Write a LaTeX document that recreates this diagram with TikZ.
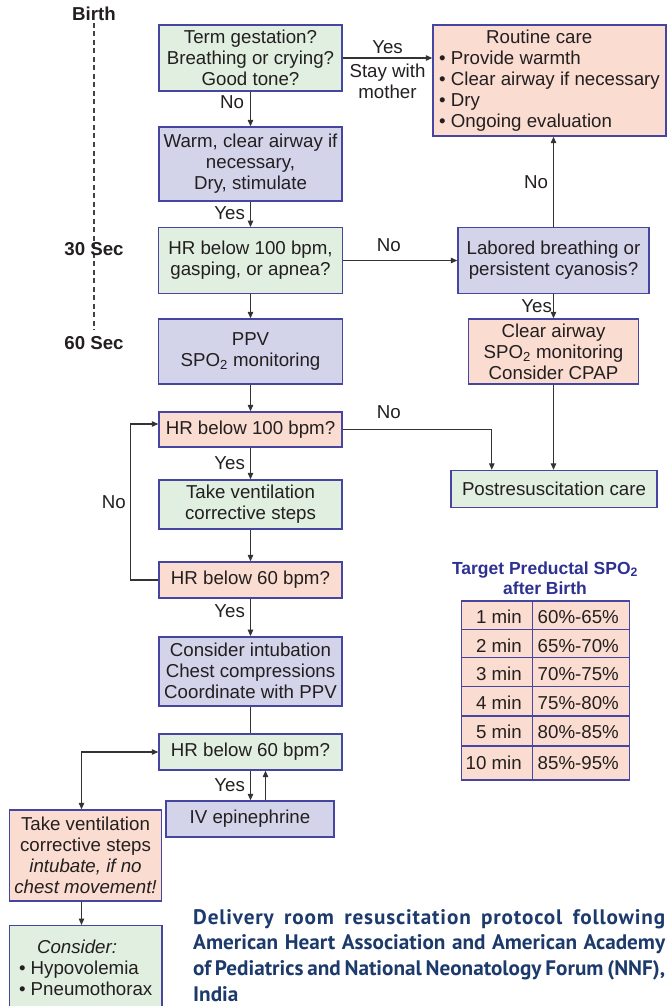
\documentclass[tikz,border=0pt]{standalone}
\usepackage{fontspec}
\setmainfont{Liberation Sans}
\newfontfamily\capfont{PT Sans}[FakeStretch=1.01]
\usetikzlibrary{arrows.meta,calc}
\definecolor{gfill}{HTML}{E0EFE0}
\definecolor{pfill}{HTML}{D3D3EA}
\definecolor{rfill}{HTML}{FADCD0}
\definecolor{bord}{HTML}{4646A0}
\definecolor{txt}{HTML}{231F20}
\definecolor{arrc}{HTML}{333333}
\definecolor{tblue}{HTML}{2E3192}
\definecolor{capc}{HTML}{1C3A6B}
\newcommand\mainsz{\fontsize{18.7}{21}\selectfont}
\newcommand\titsz{\fontsize{17.5}{20}\selectfont}
\newcommand\capsz{\fontsize{21}{25.8}\selectfont}
\begin{document}
\begin{tikzpicture}[x=1pt,y=-1pt,
  box/.style={draw=bord, line width=1.4pt, inner sep=0pt, align=center, font=\mainsz, text=txt},
  gbox/.style={box, fill=gfill},
  pbox/.style={box, fill=pfill},
  rbox/.style={box, fill=rfill},
  lbl/.style={font=\mainsz, text=txt, inner sep=0pt},
  tl/.style={font=\mainsz\bfseries, text=txt, inner sep=0pt},
  link/.style={draw=arrc, line width=1.15pt},
  arr/.style={link, -{Triangle[length=6.5pt,width=5.5pt]}},
  arrtwo/.style={link, {Triangle[length=6.5pt,width=5.5pt]}-{Triangle[length=6.5pt,width=5.5pt]}},
  tline/.style={draw=txt!85, line width=1.1pt, dash pattern=on 5pt off 3.5pt},
  cell/.style={font=\mainsz, text=txt, inner sep=0pt}
]
\useasboundingbox (0,0) rectangle (667,1006);

% timeline
\node[tl] (birth) at (94,14) {Birth};
\coordinate (tlend) at (94,330);
\draw[tline] (94,23) -- (tlend);
\node[tl] (s30) at (94,249) {30 Sec};
\node[tl] (s60) at (94,343) {60 Sec};

% boxes
\node[gbox, minimum width=183pt, minimum height=66pt] (q1) at (250.5,58) {Term gestation?\\Breathing or crying?\\Good tone?};
\node[pbox, minimum width=183pt, minimum height=74pt] (a1) at (250.5,164) {Warm, clear airway if\\necessary,\\Dry, stimulate};
\node[rbox, minimum width=233pt, minimum height=111pt, align=left] (rc) at (549.5,80.5) {\hspace*{47pt}Routine care\\\textbullet\ Provide warmth\\\textbullet\ Clear airway if necessary\\\textbullet\ Dry\\\textbullet\ Ongoing evaluation};
\node[gbox, minimum width=184pt, minimum height=65.5pt] (q2) at (250.5,260.5) {HR below 100 bpm,\\gasping, or apnea?};
\node[pbox, minimum width=191pt, minimum height=65.5pt] (lb) at (553.5,260.5) {Labored breathing or\\persistent cyanosis?};
\node[rbox, minimum width=170pt, minimum height=65pt] (ca) at (553.5,351.5) {Clear airway\\SPO\textsubscript{2} monitoring\\Consider CPAP};
\node[pbox, minimum width=184pt, minimum height=65pt] (ppv) at (250.5,351.5) {PPV\\SPO\textsubscript{2} monitoring};
\node[rbox, minimum width=183pt, minimum height=35pt] (h100) at (250.5,429.5) {HR below 100 bpm?};
\node[gbox, minimum width=206pt, minimum height=37pt] (pc) at (554,489) {Postresuscitation care};
\node[gbox, minimum width=183pt, minimum height=49pt] (vent) at (250.5,504.5) {Take ventilation\\corrective steps};
\node[rbox, minimum width=183pt, minimum height=36pt] (h60a) at (250.5,580) {HR below 60 bpm?};
\node[pbox, minimum width=183pt, minimum height=69pt] (intub) at (250.5,671.3) {Consider intubation\\Chest compressions\\Coordinate with PPV};
\node[gbox, minimum width=183pt, minimum height=36pt] (h60b) at (250.5,752) {HR below 60 bpm?};
\node[pbox, minimum width=168pt, minimum height=36pt] (iv) at (250,819) {IV epinephrine};
\node[rbox, minimum width=152pt, minimum height=91pt] (tv2) at (85.5,855.5) {Take ventilation\\corrective steps\\\textit{intubate, if no}\\\textit{chest movement!}};
\node[gbox, minimum width=152.5pt, minimum height=90pt] (cons) at (85.7,970.7) {};
\node[lbl, align=left] (constxt) at (85.7,968) {\hspace*{18pt}\textit{Consider:}\\\textbullet\ Hypovolemia\\\textbullet\ Pneumothorax};

% connectors
\draw[arr] (q1) -- node[lbl, left=6pt, pos=0.3] {No} (a1);
\draw[arr] (a1) -- node[lbl, left=5pt, pos=0.45] {Yes} (q2);
\draw[arr] (q1.east) -- (q1.east -| rc.west)
  node[lbl, midway, above=4pt] {Yes}
  node[lbl, midway, below=5pt, align=center] {Stay with\\mother};
\draw[arr] (q2.east) -- node[lbl, pos=0.4, above=8pt] {No} (q2.east -| lb.west);
\draw[arr] (lb.north) -- node[lbl, midway, left=5pt] {No} (lb.north |- rc.south);
\draw[arr] (lb.south) -- node[lbl, midway, left=1pt] {Yes} (lb.south |- ca.north);
\draw[arr] (ca.south) -- (ca.south |- pc.north);
\draw[arr] (q2) -- (ppv);
\draw[arr] (ppv) -- (h100);
\coordinate (pcin) at ($(pc.north west)!0.2!(pc.north east)$);
\draw[arr] (h100.east) -- node[lbl, pos=0.31, above=10pt] {No} (h100.east -| pcin) -- (pcin);
\draw[arr] (h100) -- node[lbl, midway, left=5pt] {Yes} (vent);
\draw[arr] (vent) -- (h60a);
\coordinate (h100in) at ($(h100.west)+(0,-5.5)$);
\draw[arr] (h60a.west) -- ++(-28,0) |- node[lbl, pos=0.25, left=4pt] {No} (h100in);
\draw[arr] (h60a) -- node[lbl, pos=0.33, left=5pt] {Yes} (intub);
\draw[link] (intub) -- (h60b);
\draw[arr] (h60b.south) -- node[lbl, midway, left=5pt] {Yes} (h60b.south |- iv.north);
\coordinate (ivup) at ($(iv.north)+(15.5,0)$);
\draw[arr] (ivup) -- (ivup |- h60b.south);
\coordinate (tvin) at ($(tv2.north)+(-4,0)$);
\draw[arrtwo] (h60b.west) -| (tvin);
\coordinate (tvout) at ($(tv2.south)+(-4,0)$);
\draw[arr] (tvout) -- (tvout |- cons.north);

% target table
\node[font=\titsz\bfseries, text=tblue, align=center, inner sep=0pt] (ttl) at (545,578) {Target Preductal SPO\textsubscript{2}\\after Birth};
\draw[draw=bord, line width=1.4pt, fill=rfill] (461.7,601) rectangle (629.3,780);
\foreach \yy in {629.3,657.7,686.7,716,746} \draw[draw=bord, line width=1.4pt] (461.7,\yy) -- (629.3,\yy);
\draw[draw=bord, line width=1.4pt] (532.7,601) -- (532.7,780);
\foreach \yy/\tm/\pc [count=\i] in {616.7/1 min/60\%-65\%, 645.7/2 min/65\%-70\%, 674/3 min/70\%-75\%, 703/4 min/75\%-80\%, 731.7/5 min/80\%-85\%, 763/10 min/85\%-95\%} {
  \node[cell, anchor=east] (tm\i) at (522,\yy) {\tm};
  \node[cell, anchor=west] (pv\i) at (537.5,\yy) {\pc};
}

% caption
\node[anchor=north west, inner sep=0pt, align=left, font=\capfont\bfseries\capsz, text=capc] (cap) at (193,909)
  {\makebox[472pt][s]{\addfontfeature{LetterSpace=4}Delivery room resuscitation protocol following}\\
   \makebox[472pt][s]{American Heart Association and American Academy}\\
   \makebox[472pt][s]{of Pediatrics and National Neonatology Forum (NNF),}\\
   India};
\end{tikzpicture}
\end{document}
